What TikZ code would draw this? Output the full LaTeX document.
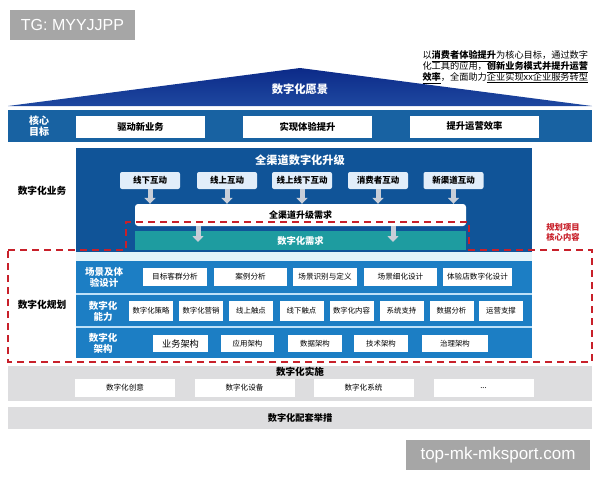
\documentclass[tikz,border=0pt]{standalone}
\usepackage{fontspec}
\setmainfont{Noto Sans CJK SC}
\newfontfamily\wmfont{Liberation Sans}
\usetikzlibrary{arrows.meta}

\definecolor{roofblue}{RGB}{12,42,136}
\definecolor{rooflight}{RGB}{30,72,160}
\definecolor{goalblue}{RGB}{24,98,162}
\definecolor{chanblue}{RGB}{16,84,152}
\definecolor{chanlight}{RGB}{226,238,250}
\definecolor{arrowgray}{RGB}{200,206,216}
\definecolor{tealbox}{RGB}{30,156,160}
\definecolor{planblue}{RGB}{28,126,196}
\definecolor{sepblue}{RGB}{190,225,248}
\definecolor{stripcyan}{RGB}{226,244,250}
\definecolor{bandgray}{RGB}{221,221,223}
\definecolor{dashred}{RGB}{200,32,42}
\definecolor{wmgray}{RGB}{166,166,166}

\tikzset{
	goalbox/.style={fill=white,minimum width=129pt,minimum height=22pt,inner sep=0pt,font=\fontsize{9.3pt}{11pt}\selectfont\bfseries},
	chanbox/.style={fill=chanlight,rounded corners=2pt,minimum width=60pt,minimum height=17pt,inner sep=0pt,font=\fontsize{8.5pt}{10pt}\selectfont\bfseries},
	downarrow/.style={draw=arrowgray,line width=5pt,-{Triangle[width=11pt,length=6pt]}},
	scenebox/.style={fill=white,minimum height=18pt,inner sep=0pt,font=\fontsize{7.6pt}{9pt}\selectfont},
	capbox/.style={fill=white,minimum width=44pt,minimum height=20pt,inner sep=0pt,font=\fontsize{7.4pt}{9pt}\selectfont},
	archbox/.style={fill=white,minimum height=17pt,inner sep=0pt,font=\fontsize{7.4pt}{9pt}\selectfont},
	implbox/.style={fill=white,minimum width=100pt,minimum height=18pt,inner sep=0pt,font=\fontsize{7.6pt}{9pt}\selectfont},
	rowlabel/.style={text=white,align=center,font=\fontsize{9.5pt}{11pt}\selectfont\bfseries},
	sidelabel/.style={align=center,font=\fontsize{9.7pt}{11pt}\selectfont\bfseries},
	grayband/.style={fill=bandgray,minimum width=584pt,inner sep=0pt},
	planframe/.style={draw=dashred,line width=1.6pt,dash pattern=on 7pt off 5pt},
	watermark/.style={fill=wmgray,text=white,inner sep=0pt}
}

\begin{document}
\begin{tikzpicture}[x=1pt,y=-1pt]
	\useasboundingbox (0,0) rectangle (600,480);

	% roof
	\shade[top color=roofblue,bottom color=rooflight] (8,106) -- (300,68) -- (592,106) -- cycle;
	\node[text=white,font=\fontsize{11.3pt}{13pt}\selectfont\bfseries] (vision) at (300,89) {数字化愿景};
	\node[anchor=north west,align=left,font=\fontsize{9.2pt}{11pt}\selectfont] (slogan) at (419,47) {以\underline{\textbf{消费者体验提升}}为核心目标，通过数字\\化工具的应用，\underline{\textbf{创新业务模式并提升运营}}\\\underline{\textbf{效率}}，全面助力\underline{企业实现xx企业服务转型}};

	% core goals
	\node[fill=goalblue,minimum width=584pt,minimum height=32pt,inner sep=0pt] (goals) at (300,126) {};
	\node[rowlabel,font=\fontsize{10pt}{11pt}\selectfont\bfseries] (goalttl) at (39,126) {核心\\目标};
	\node[goalbox] (g1) at (140.5,126.5) {驱动新业务};
	\node[goalbox] (g2) at (307.5,126.5) {实现体验提升};
	\node[goalbox] (g3) at (474.5,126.5) {提升运营效率};

	% digital business
	\node[sidelabel] (bizttl) at (42,191) {数字化业务};
	\node[fill=chanblue,minimum width=456pt,minimum height=104pt,inner sep=0pt] (chan) at (304,200) {};
	\node[text=white,font=\fontsize{11.2pt}{13pt}\selectfont\bfseries] (chanttl) at (300,160) {全渠道数字化升级};
	\node[chanbox] (c1) at (150,180.5) {线下互动};
	\node[chanbox] (c2) at (227,180.5) {线上互动};
	\node[chanbox] (c3) at (302,180.5) {线上线下互动};
	\node[chanbox] (c4) at (378,180.5) {消费者互动};
	\node[chanbox] (c5) at (453.5,180.5) {新渠道互动};
	\node[fill=white,rounded corners=3pt,minimum width=331pt,minimum height=22pt,inner sep=0pt,font=\fontsize{9pt}{11pt}\selectfont\bfseries] (need) at (300.5,215) {全渠道升级需求};
	\node[fill=tealbox,text=white,minimum width=331pt,minimum height=19pt,inner sep=0pt,font=\fontsize{9.3pt}{11pt}\selectfont\bfseries] (demand) at (300.5,240.5) {数字化需求};
	\draw[downarrow] (c1.south) -- (c1.south |- need.north);
	\draw[downarrow] (c2.south) -- (c2.south |- need.north);
	\draw[downarrow] (c3.south) -- (c3.south |- need.north);
	\draw[downarrow] (c4.south) -- (c4.south |- need.north);
	\draw[downarrow] (c5.south) -- (c5.south |- need.north);
	\coordinate (tip1) at (198,242);
	\coordinate (tip2) at (393,242);
	\draw[downarrow] (need.south -| tip1) -- (tip1);
	\draw[downarrow] (need.south -| tip2) -- (tip2);
	\fill[stripcyan] (76,252) rectangle (532,261);

	% digital planning
	\node[sidelabel] (planttl) at (42,305) {数字化规划};
	\node[fill=planblue,minimum width=456pt,minimum height=97pt,inner sep=0pt] (plan) at (304,309.5) {};
	\draw[sepblue,line width=1.2pt] (76,294) -- (532,294);
	\draw[sepblue,line width=1.2pt] (76,327) -- (532,327);
	\node[rowlabel] (scenettl) at (104,277) {场景及体\\验设计};
	\node[rowlabel] (capttl) at (103,311) {数字化\\能力};
	\node[rowlabel] (archttl) at (103,343) {数字化\\架构};
	\node[scenebox,minimum width=64pt] (s1) at (175,277) {目标客群分析};
	\node[scenebox,minimum width=73pt] (s2) at (250.5,277) {案例分析};
	\node[scenebox,minimum width=64pt] (s3) at (325,277) {场景识别与定义};
	\node[scenebox,minimum width=73pt] (s4) at (400.5,277) {场景细化设计};
	\node[scenebox,minimum width=69pt] (s5) at (477.5,277) {体验店数字化设计};
	\node[capbox] (k1) at (151,311) {数字化策略};
	\node[capbox] (k2) at (201,311) {数字化营销};
	\node[capbox] (k3) at (251,311) {线上触点};
	\node[capbox] (k4) at (301.5,311) {线下触点};
	\node[capbox] (k5) at (351.5,311) {数字化内容};
	\node[capbox] (k6) at (401.5,311) {系统支持};
	\node[capbox] (k7) at (451.5,311) {数据分析};
	\node[capbox] (k8) at (501,311) {运营支撑};
	\node[archbox,minimum width=55pt,font=\fontsize{9.2pt}{11pt}\selectfont] (a1) at (180.5,343.5) {业务架构};
	\node[archbox,minimum width=53pt] (a2) at (247.5,343.5) {应用架构};
	\node[archbox,minimum width=54pt] (a3) at (315,343.5) {数据架构};
	\node[archbox,minimum width=54pt] (a4) at (381,343.5) {技术架构};
	\node[archbox,minimum width=66pt] (a5) at (455,343.5) {治理架构};
	\node[text=dashred,align=center,font=\fontsize{8.3pt}{10pt}\selectfont\bfseries] (framettl) at (563,232) {规划项目\\核心内容};

	% implementation and support
	\node[grayband,minimum height=35pt] (impl) at (300,383.5) {};
	\node[font=\fontsize{9.6pt}{11pt}\selectfont\bfseries] (implttl) at (300,372) {数字化实施};
	\node[implbox] (i1) at (125,388) {数字化创意};
	\node[implbox] (i2) at (244.5,388) {数字化设备};
	\node[implbox] (i3) at (363.5,388) {数字化系统};
	\node[implbox] (i4) at (483.5,388) {...};
	\node[grayband,minimum height=22pt,font=\fontsize{9.2pt}{11pt}\selectfont\bfseries] (support) at (300,418) {数字化配套举措};

	% dashed planning frame
	\draw[planframe] (8,250) -- (126,250) -- (126,222) -- (469,222) -- (469,250) -- (592,250) -- (592,362) -- (8,362) -- cycle;

	% watermarks
	\node[watermark,minimum width=125pt,minimum height=30pt,font=\wmfont\fontsize{16pt}{18pt}\selectfont] (tagmark) at (72.5,25) {TG: MYYJJPP};
	\node[watermark,minimum width=184pt,minimum height=30pt,font=\wmfont\fontsize{17pt}{19pt}\selectfont] (sitemark) at (498,455) {top-mk-mksport.com};
\end{tikzpicture}
\end{document}
